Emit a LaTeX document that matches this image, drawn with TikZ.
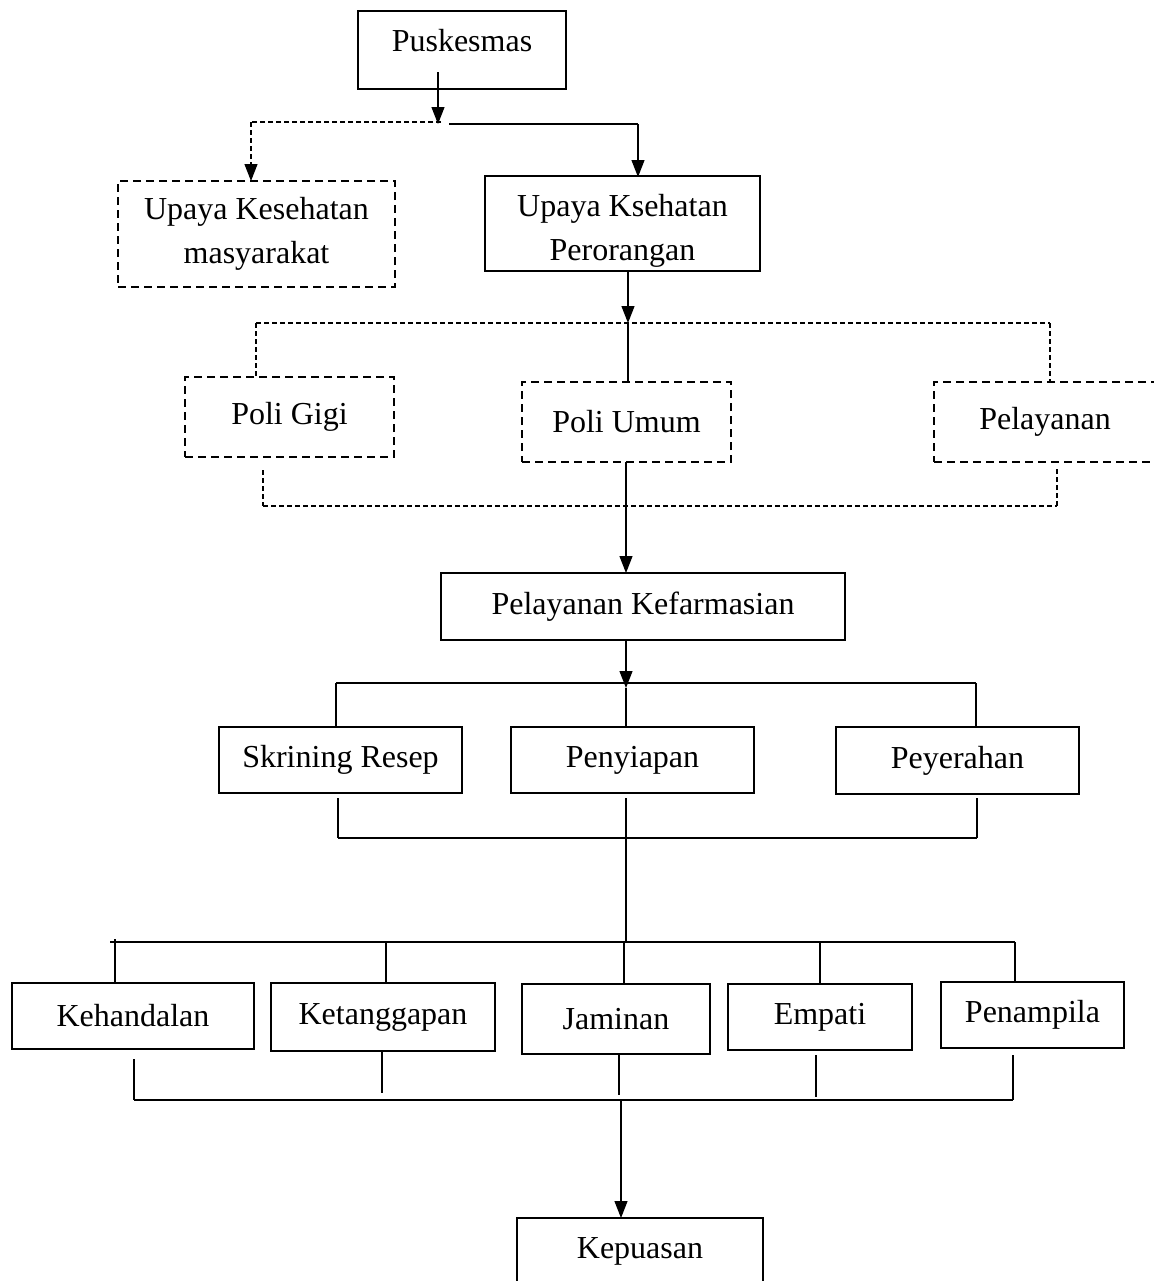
\documentclass[tikz,border=0pt]{standalone}
\usepackage{fontspec}
\setmainfont{Liberation Serif}
\usetikzlibrary{arrows.meta}
\pgfdeclarelayer{edgelayer}
\pgfdeclarelayer{nodelayer}
\pgfsetlayers{edgelayer,nodelayer,main}
\tikzset{font=\fontsize{16}{22}\selectfont}
\tikzstyle{none}=[inner sep=0pt]
\tikzstyle{box}=[draw,line width=1.2pt,align=center,inner sep=2pt]
\tikzstyle{dashbox}=[box,dash pattern=on 4pt off 2.5pt]
\tikzstyle{line}=[line width=0.6pt]
\tikzstyle{dashline}=[line width=0.6pt,dash pattern=on 2.5pt off 1.5pt]
\tikzstyle{arrow}=[-{Triangle[length=8.5pt,width=6.5pt]}]

\begin{document}
\begin{tikzpicture}[x=0.5pt,y=-0.5pt]
	\useasboundingbox (0,0) rectangle (1153,1281);
	\begin{pgfonlayer}{nodelayer}
		\node [style=box, minimum width=104pt, minimum height=39pt, text depth=10pt] (puskesmas) at (462, 50) {Puskesmas};
		\node [style=dashbox, minimum width=138.5pt, minimum height=53pt] (ukm) at (256.5, 234) {Upaya Kesehatan\\masyarakat};
		\node [style=box, minimum width=137.5pt, minimum height=46.5pt] (ukp) at (622.5, 223.5) {\rule{0pt}{18pt}Upaya Ksehatan\\Perorangan};
		\node [style=dashbox, minimum width=104.5pt, minimum height=40pt] (gigi) at (289.5, 417) {Poli Gigi};
		\node [style=dashbox, minimum width=104.5pt, minimum height=40pt] (umum) at (626.5, 422) {Poli Umum};
		\node [style=dashbox, minimum width=111pt, minimum height=40pt] (pelayanan) at (1045, 422) {Pelayanan};
		\node [style=box, minimum width=202pt, minimum height=33.5pt] (farmasi) at (643, 606.5) {Pelayanan Kefarmasian};
		\node [style=box, minimum width=121.5pt, minimum height=33pt] (skrining) at (340.5, 760) {Skrining Resep};
		\node [style=box, minimum width=121.5pt, minimum height=33pt] (penyiapan) at (632.5, 760) {Penyiapan};
		\node [style=box, minimum width=121.5pt, minimum height=33.5pt] (peyerahan) at (957.5, 760.5) {Peyerahan};
		\node [style=box, minimum width=121pt, minimum height=33pt] (kehandalan) at (133, 1016) {Kehandalan};
		\node [style=box, minimum width=112pt, minimum height=34pt] (ketanggapan) at (383, 1017) {Ketanggapan};
		\node [style=box, minimum width=94pt, minimum height=35pt] (jaminan) at (616, 1019) {Jaminan};
		\node [style=box, minimum width=92pt, minimum height=33pt] (empati) at (820, 1017) {Empati};
		\node [style=box, minimum width=91.5pt, minimum height=33pt] (penampila) at (1032.5, 1015) {Penampila};
		\node [style=box, minimum width=123pt, minimum height=33pt] (kepuasan) at (640, 1251) {Kepuasan};
		\node [style=none] (0) at (438, 72) {};
		\node [style=none] (1) at (438, 124) {};
		\node [style=none] (2) at (441, 122) {};
		\node [style=none] (3) at (251, 122) {};
		\node [style=none] (4) at (251, 181) {};
		\node [style=none] (5) at (449, 124) {};
		\node [style=none] (6) at (638, 124) {};
		\node [style=none] (7) at (638, 177) {};
		\node [style=none] (8) at (628, 270) {};
		\node [style=none] (9) at (628, 323) {};
		\node [style=none] (10) at (256, 323) {};
		\node [style=none] (11) at (256, 377) {};
		\node [style=none] (12) at (1050, 323) {};
		\node [style=none] (13) at (1050, 382) {};
		\node [style=none] (14) at (628, 382) {};
		\node [style=none] (15) at (263, 470) {};
		\node [style=none] (16) at (263, 506) {};
		\node [style=none] (17) at (1057, 506) {};
		\node [style=none] (18) at (1057, 467) {};
		\node [style=none] (19) at (626, 462) {};
		\node [style=none] (20) at (626, 573) {};
		\node [style=none] (21) at (626, 640) {};
		\node [style=none] (22) at (626, 688) {};
		\node [style=none] (23) at (336, 683) {};
		\node [style=none] (24) at (976, 683) {};
		\node [style=none] (25) at (336, 727) {};
		\node [style=none] (26) at (976, 727) {};
		\node [style=none] (27) at (626, 727) {};
		\node [style=none] (28) at (338, 798) {};
		\node [style=none] (29) at (338, 838) {};
		\node [style=none] (30) at (977, 838) {};
		\node [style=none] (31) at (977, 798) {};
		\node [style=none] (32) at (626, 798) {};
		\node [style=none] (33) at (626, 942) {};
		\node [style=none] (34) at (110, 942) {};
		\node [style=none] (35) at (1015, 942) {};
		\node [style=none] (36) at (115, 939) {};
		\node [style=none] (37) at (115, 983) {};
		\node [style=none] (38) at (386, 942) {};
		\node [style=none] (39) at (386, 983) {};
		\node [style=none] (40) at (624, 942) {};
		\node [style=none] (41) at (624, 984) {};
		\node [style=none] (42) at (820, 942) {};
		\node [style=none] (43) at (820, 984) {};
		\node [style=none] (44) at (1015, 982) {};
		\node [style=none] (45) at (134, 1059) {};
		\node [style=none] (46) at (134, 1100) {};
		\node [style=none] (47) at (382, 1052) {};
		\node [style=none] (48) at (382, 1093) {};
		\node [style=none] (49) at (619, 1055) {};
		\node [style=none] (50) at (619, 1095) {};
		\node [style=none] (51) at (816, 1055) {};
		\node [style=none] (52) at (816, 1097) {};
		\node [style=none] (53) at (1013, 1055) {};
		\node [style=none] (54) at (1013, 1100) {};
		\node [style=none] (55) at (621, 1100) {};
		\node [style=none] (56) at (621, 1218) {};
	\end{pgfonlayer}
	\begin{pgfonlayer}{edgelayer}
		\draw [style=line, style=arrow] (0.center) to (1.center);
		\draw [style=dashline] (2.center) to (3.center);
		\draw [style=dashline, style=arrow] (3.center) to (4.center);
		\draw [style=line] (5.center) to (6.center);
		\draw [style=line, style=arrow] (6.center) to (7.center);
		\draw [style=line, style=arrow] (8.center) to (9.center);
		\draw [style=dashline] (10.center) to (12.center);
		\draw [style=dashline] (10.center) to (11.center);
		\draw [style=dashline] (12.center) to (13.center);
		\draw [style=line] (9.center) to (14.center);
		\draw [style=dashline] (15.center) to (16.center);
		\draw [style=dashline] (16.center) to (17.center);
		\draw [style=dashline] (17.center) to (18.center);
		\draw [style=line, style=arrow] (19.center) to (20.center);
		\draw [style=line, style=arrow] (21.center) to (22.center);
		\draw [style=line] (23.center) to (24.center);
		\draw [style=line] (23.center) to (25.center);
		\draw [style=line] (24.center) to (26.center);
		\draw [style=line] (22.center) to (27.center);
		\draw [style=line] (28.center) to (29.center);
		\draw [style=line] (29.center) to (30.center);
		\draw [style=line] (30.center) to (31.center);
		\draw [style=line] (32.center) to (33.center);
		\draw [style=line] (34.center) to (35.center);
		\draw [style=line] (36.center) to (37.center);
		\draw [style=line] (38.center) to (39.center);
		\draw [style=line] (40.center) to (41.center);
		\draw [style=line] (42.center) to (43.center);
		\draw [style=line] (35.center) to (44.center);
		\draw [style=line] (45.center) to (46.center);
		\draw [style=line] (47.center) to (48.center);
		\draw [style=line] (49.center) to (50.center);
		\draw [style=line] (51.center) to (52.center);
		\draw [style=line] (53.center) to (54.center);
		\draw [style=line] (46.center) to (54.center);
		\draw [style=line, style=arrow] (55.center) to (56.center);
	\end{pgfonlayer}
\end{tikzpicture}
\end{document}
